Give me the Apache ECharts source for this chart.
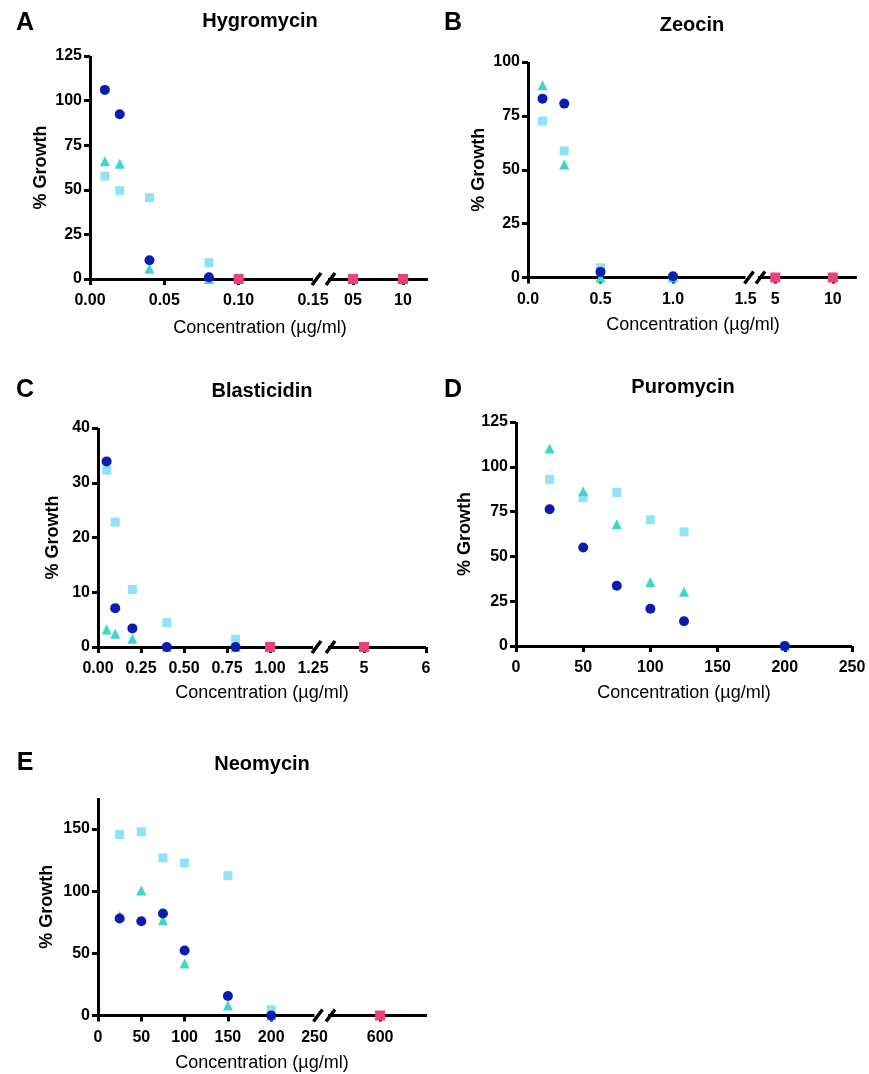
<!DOCTYPE html>
<html>
<head>
<meta charset="utf-8">
<script src="https://cdn.jsdelivr.net/npm/echarts@6/dist/echarts.min.js"></script>
<style>
html,body{margin:0;padding:0;background:#fff;}
#chart{width:869px;height:1074px;}
</style>
</head>
<body>
<div id="chart"></div>
<script>
// ---------------- DATA ----------------
// A: Hygromycin
const hygConc = [0.01, 0.02, 0.04, 0.08];
const hygCircle = [106, 92.3, 10.5, 1];
const hygTriangle = [66, 64.6, 5.8, 0];
const hygSquare = [57.7, 49.5, 45.6, 9.1];
const hygPinkConc = [0.1, 5, 10];
const hygPink = [0, 0, 0];
const hygXTicksLeft = [0, 0.05, 0.10, 0.15];
const hygXLabelsLeft = ['0.00', '0.05', '0.10', '0.15'];
const hygXTicksRight = [5, 10];
const hygXLabelsRight = ['05', '10'];
const hygYTicks = [0, 25, 50, 75, 100, 125];

// B: Zeocin
const zeoConc = [0.1, 0.25, 0.5, 1.0];
const zeoCircle = [83, 80.7, 2.6, 0.6];
const zeoTriangle = [89.2, 52.4, 0, 0];
const zeoSquare = [72.6, 58.7, 4.5, 0];
const zeoPinkConc = [5, 10];
const zeoPink = [0, 0];
const zeoXTicksLeft = [0, 0.5, 1.0, 1.5];
const zeoXLabelsLeft = ['0.0', '0.5', '1.0', '1.5'];
const zeoXTicksRight = [5, 10];
const zeoXLabelsRight = ['5', '10'];
const zeoYTicks = [0, 25, 50, 75, 100];

// C: Blasticidin
const blaConc = [0.05, 0.1, 0.2, 0.4, 0.8];
const blaCircle = [33.9, 7.1, 3.4, 0, 0];
const blaTriangle = [3.2, 2.4, 1.5, 0, 0];
const blaSquare = [32.3, 22.8, 10.5, 4.45, 1.4];
const blaPinkConc = [1.0, 5];
const blaPink = [0, 0];
const blaXTicksLeft = [0, 0.25, 0.5, 0.75, 1.0, 1.25];
const blaXLabelsLeft = ['0.00', '0.25', '0.50', '0.75', '1.00', '1.25'];
const blaXTicksRight = [5, 6];
const blaXLabelsRight = ['5', '6'];
const blaYTicks = [0, 10, 20, 30, 40];

// D: Puromycin
const purConc = [25, 50, 75, 100, 125, 200];
const purCircle = [76.3, 55, 33.6, 20.8, 13.8, 0];
const purTriangle = [110.2, 86.4, 68, 35.7, 30.3, 0];
const purSquare = [93, 82.8, 85.6, 70.4, 63.7, 0];
const purXTicks = [0, 50, 100, 150, 200, 250];
const purYTicks = [0, 25, 50, 75, 100, 125];

// E: Neomycin
const neoConc = [25, 50, 75, 100, 150, 200];
const neoCircle = [78, 75.8, 82, 52.3, 15.7, 0];
const neoTriangle = [80, 100.6, 76.6, 41.8, 8.1, 0];
const neoSquare = [145.6, 147.8, 126.8, 122.7, 112.5, 4.6];
const neoPinkConc = [600];
const neoPink = [0];
const neoXTicksLeft = [0, 50, 100, 150, 200, 250];
const neoXLabelsLeft = ['0', '50', '100', '150', '200', '250'];
const neoXTicksRight = [600];
const neoXLabelsRight = ['600'];
const neoYTicks = [0, 50, 100, 150];

// ---------------- STYLE ----------------
const FONT = 'Liberation Sans, Arial, Helvetica, sans-serif';
const C_CIRCLE = '#0b1db0';
const C_TRI = '#3dd6c8';
const C_SQ = '#8fe3f7';
const C_PINK = '#f0407a';
const AXIS_W = 3;

const grids = [];
const xAxes = [];
const yAxes = [];
const series = [];
const titles = [];

function zip(xs, ys) { return xs.map((x, i) => [x, ys[i]]); }
function labelFor(ticks, labels) {
  return function (v) {
    for (let i = 0; i < ticks.length; i++) {
      if (Math.abs(ticks[i] - v) < 1e-9) return labels[i];
    }
    return '';
  };
}
function baseAxisLine() {
  return { show: true, onZero: false, lineStyle: { color: '#000', width: AXIS_W, cap: 'butt' } };
}
function tickStyle() {
  return { show: true, inside: false, length: 6, lineStyle: { color: '#000', width: AXIS_W } };
}
function labelStyle() {
  return { color: '#000', fontSize: 16, fontWeight: 'bold', fontFamily: FONT };
}

function addGrid(g) { grids.push(g); return grids.length - 1; }

function addY(gridIndex, min, max, ticks, showAxis, nameGap) {
  yAxes.push({
    type: 'value', gridIndex, min, max,
    show: showAxis,
    name: showAxis ? '% Growth' : '',
    nameLocation: 'middle', nameGap: nameGap,
    nameTextStyle: { color: '#000', fontSize: 18, fontWeight: 'bold', fontFamily: FONT },
    axisLine: baseAxisLine(),
    axisTick: Object.assign(tickStyle(), { customValues: ticks }),
    axisLabel: Object.assign(labelStyle(), { customValues: ticks, margin: 8, formatter: v => String(v) }),
    splitLine: { show: false }
  });
  return yAxes.length - 1;
}
function addX(gridIndex, min, max, ticks, labels, tickVals) {
  xAxes.push({
    type: 'value', gridIndex, min, max,
    axisLine: baseAxisLine(),
    axisTick: Object.assign(tickStyle(), { customValues: tickVals || ticks }),
    axisLabel: Object.assign(labelStyle(), { customValues: ticks, margin: 14, formatter: labelFor(ticks, labels), showMinLabel: true, showMaxLabel: true, hideOverlap: false }),
    splitLine: { show: false }
  });
  return xAxes.length - 1;
}

function scatter(name, xi, yi, data, symbol, color, size, z) {
  series.push({
    name, type: 'scatter', xAxisIndex: xi, yAxisIndex: yi, data,
    symbol, symbolSize: size, clip: false, z: z,
    itemStyle: { color: color, opacity: 1 },
    emphasis: { disabled: true }
  });
}

function breakMark(xi, yi, side) {
  series.push({
    type: 'custom', xAxisIndex: xi, yAxisIndex: yi, data: [[0, 0]], z: 5, silent: true, clip: false,
    renderItem: function (params, api) {
      const cs = params.coordSys;
      const y = cs.y + cs.height;
      let x1, x2;
      if (side === 'end') { const x = cs.x + cs.width; x1 = x - 1; x2 = x + 8; }
      else { const x = cs.x; x1 = x - 2; x2 = x + 7; }
      return { type: 'line', shape: { x1: x1, y1: y + 6, x2: x2, y2: y - 6 }, style: { stroke: '#000', lineWidth: 3.5 } };
    }
  });
}

function splitPts(xs, ys, leftMax) {
  const L = [], R = [];
  xs.forEach((x, i) => { (x <= leftMax ? L : R).push([x, ys[i]]); });
  return [L, R];
}

function addTitles(letter, lx, ly, title, tx, ty, xname, nx, ny) {
  titles.push({ text: letter, left: lx, top: ly, textAlign: 'center', textVerticalAlign: 'middle', padding: 0,
    textStyle: { fontSize: 25, fontWeight: 'bold', color: '#000', fontFamily: FONT } });
  titles.push({ text: title, left: tx, top: ty, textAlign: 'center', textVerticalAlign: 'middle', padding: 0,
    textStyle: { fontSize: 20, fontWeight: 'bold', color: '#000', fontFamily: FONT } });
  titles.push({ text: xname, left: nx, top: ny, textAlign: 'center', textVerticalAlign: 'middle', padding: 0,
    textStyle: { fontSize: 18, fontWeight: 'normal', color: '#000', fontFamily: FONT } });
}

function brokenPanel(cfg) {
  const gL = addGrid({ left: cfg.L[0], top: cfg.top, width: cfg.L[1], height: cfg.h });
  const gR = addGrid({ left: cfg.R[0], top: cfg.top, width: cfg.R[1], height: cfg.h });
  const yL = addY(gL, cfg.ymin, cfg.ymax, cfg.yTicks, true, cfg.nameGap);
  const yR = addY(gR, cfg.ymin, cfg.ymax, cfg.yTicks, false, 0);
  const xL = addX(gL, cfg.xL[0], cfg.xL[1], cfg.ticksL, cfg.labelsL, cfg.tickValsL);
  const xR = addX(gR, cfg.xR[0], cfg.xR[1], cfg.ticksR, cfg.labelsR);
  const leftMax = cfg.xL[1];
  const groups = [
    ['Square', cfg.sq, 'rect', C_SQ, 9, 2],
    ['Triangle', cfg.tri, 'triangle', C_TRI, 10, 3],
    ['Circle', cfg.circ, 'circle', C_CIRCLE, 10, 4]
  ];
  groups.forEach(gp => {
    const [Lp, Rp] = splitPts(cfg.conc, gp[1], leftMax);
    if (Lp.length) scatter(gp[0], xL, yL, Lp, gp[2], gp[3], gp[4], gp[5]);
    if (Rp.length) scatter(gp[0], xR, yR, Rp, gp[2], gp[3], gp[4], gp[5]);
  });
  if (cfg.pinkConc) {
    const [Lp, Rp] = splitPts(cfg.pinkConc, cfg.pink, leftMax);
    if (Lp.length) scatter('All', xL, yL, Lp, 'rect', C_PINK, 10, 5);
    if (Rp.length) scatter('All', xR, yR, Rp, 'rect', C_PINK, 10, 5);
  }
  breakMark(xL, yL, 'end');
  breakMark(xR, yR, 'start');
}

// ---------------- PANELS ----------------
// A
brokenPanel({
  L: [90, 223], R: [328, 100], top: 56, h: 223,
  xL: [0, 0.15], xR: [2.5, 12.5], ymin: 0, ymax: 125, yTicks: hygYTicks, nameGap: 40,
  ticksL: hygXTicksLeft, labelsL: hygXLabelsLeft, tickValsL: [0, 0.05, 0.10],
  ticksR: hygXTicksRight, labelsR: hygXLabelsRight,
  conc: hygConc, circ: hygCircle, tri: hygTriangle, sq: hygSquare,
  pinkConc: hygPinkConc, pink: hygPink
});
addTitles('A', 25, 23, 'Hygromycin', 260, 21, 'Concentration (µg/ml)', 260, 328);

// B
brokenPanel({
  L: [528, 217.5], R: [758, 99], top: 62, h: 215.5,
  xL: [0, 1.5], xR: [3.5, 12.1], ymin: 0, ymax: 100, yTicks: zeoYTicks, nameGap: 40,
  ticksL: zeoXTicksLeft, labelsL: zeoXLabelsLeft, tickValsL: [0, 0.5, 1.0],
  ticksR: zeoXTicksRight, labelsR: zeoXLabelsRight,
  conc: zeoConc, circ: zeoCircle, tri: zeoTriangle, sq: zeoSquare,
  pinkConc: zeoPinkConc, pink: zeoPink
});
addTitles('B', 453, 23, 'Zeocin', 692, 25, 'Concentration (µg/ml)', 693, 325);

// C
brokenPanel({
  L: [98, 215], R: [328, 98], top: 428, h: 219,
  xL: [0, 1.25], xR: [4.42, 6], ymin: 0, ymax: 40, yTicks: blaYTicks, nameGap: 36,
  ticksL: blaXTicksLeft, labelsL: blaXLabelsLeft, tickValsL: [0, 0.25, 0.5, 0.75, 1.0],
  ticksR: blaXTicksRight, labelsR: blaXLabelsRight,
  conc: blaConc, circ: blaCircle, tri: blaTriangle, sq: blaSquare,
  pinkConc: blaPinkConc, pink: blaPink
});
addTitles('C', 25, 390, 'Blasticidin', 262, 391, 'Concentration (µg/ml)', 262, 693);

// D (continuous axis)
(function () {
  const g = addGrid({ left: 516, top: 422, width: 336, height: 224 });
  const yi = addY(g, 0, 125, purYTicks, true, 42);
  const xi = addX(g, 0, 250, purXTicks, purXTicks.map(String));
  scatter('Square', xi, yi, zip(purConc, purSquare), 'rect', C_SQ, 9, 2);
  scatter('Triangle', xi, yi, zip(purConc, purTriangle), 'triangle', C_TRI, 10, 3);
  scatter('Circle', xi, yi, zip(purConc, purCircle), 'circle', C_CIRCLE, 10, 4);
})();
addTitles('D', 453, 390, 'Puromycin', 683, 387, 'Concentration (µg/ml)', 684, 693);

// E
brokenPanel({
  L: [98, 216.5], R: [328, 99], top: 798, h: 217.5,
  xL: [0, 250], xR: [500, 690], ymin: 0, ymax: 175, yTicks: neoYTicks, nameGap: 42,
  ticksL: neoXTicksLeft, labelsL: neoXLabelsLeft, tickValsL: [0, 50, 100, 150, 200],
  ticksR: neoXTicksRight, labelsR: neoXLabelsRight,
  conc: neoConc, circ: neoCircle, tri: neoTriangle, sq: neoSquare,
  pinkConc: neoPinkConc, pink: neoPink
});
addTitles('E', 25, 763, 'Neomycin', 262, 764, 'Concentration (µg/ml)', 262, 1063);

const chart = echarts.init(document.getElementById('chart'), null, { renderer: 'canvas' });
chart.setOption({
  animation: false,
  backgroundColor: '#ffffff',
  title: titles,
  grid: grids,
  xAxis: xAxes,
  yAxis: yAxes,
  series: series
});
</script>
</body>
</html>
